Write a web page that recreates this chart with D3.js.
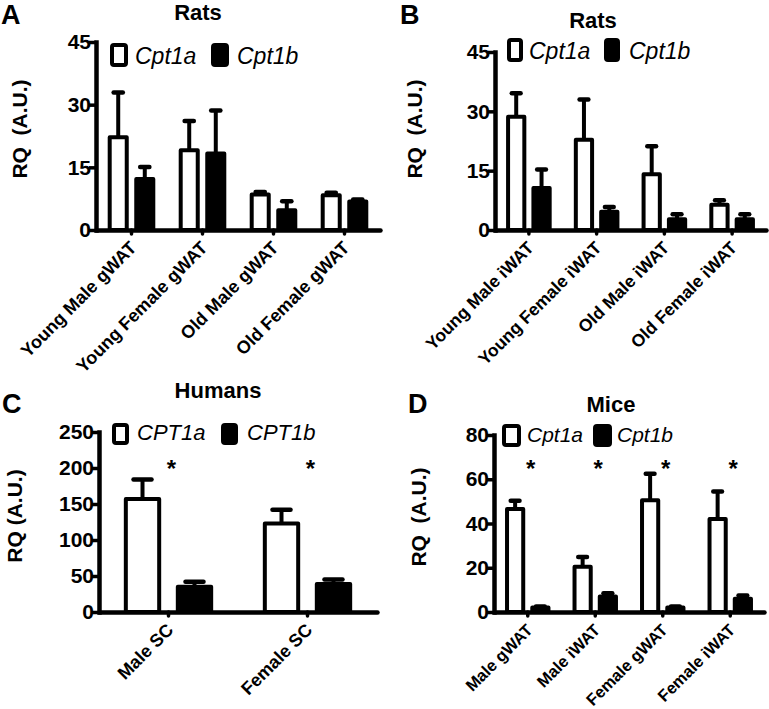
<!DOCTYPE html>
<html><head><meta charset="utf-8">
<script src="https://cdn.jsdelivr.net/npm/d3@7"></script>
<style>
body{margin:0;background:#fff;}
svg{display:block;}
text{font-family:"Liberation Sans",Arial,Helvetica,sans-serif;fill:#000;}
</style></head><body>
<svg id="c" width="769" height="709"></svg>
<script>
// ---------- data ----------
const catsA = ["Young Male gWAT","Young Female gWAT","Old Male gWAT","Old Female gWAT"];
const cpt1aA = [22.2, 19.1, 8.5, 8.3];
const cpt1aErrA = [10.7, 7.0, 0.6, 0.6];
const cpt1bA = [12.2, 18.3, 4.7, 6.8];
const cpt1bErrA = [2.9, 10.3, 2.2, 0.5];
const ticksA = [0, 15, 30, 45];

const catsB = ["Young Male iWAT","Young Female iWAT","Old Male iWAT","Old Female iWAT"];
const cpt1aB = [28.6, 22.8, 14.1, 6.4];
const cpt1aErrB = [6.0, 10.2, 7.1, 1.1];
const cpt1bB = [10.6, 4.6, 2.7, 2.7];
const cpt1bErrB = [4.7, 1.2, 1.3, 1.3];
const ticksB = [0, 15, 30, 45];

const catsC = ["Male SC","Female SC"];
const cpt1aC = [157, 123];
const cpt1aErrC = [27, 19];
const cpt1bC = [35, 39];
const cpt1bErrC = [7, 6];
const ticksC = [0, 50, 100, 150, 200, 250];
const starsC = ["*", "*"];

const catsD = ["Male gWAT","Male iWAT","Female gWAT","Female iWAT"];
const cpt1aD = [46.5, 20.4, 50.5, 42];
const cpt1aErrD = [3.8, 4.5, 12, 12.5];
const cpt1bD = [2, 7, 2, 6];
const cpt1bErrD = [0.5, 1.5, 0.5, 1.5];
const ticksD = [0, 20, 40, 60, 80];
const starsD = ["*", "*", "*", "*"];

const legendAB = ["Cpt1a", "Cpt1b"];
const legendC = ["CPT1a", "CPT1b"];

// ---------- layout ----------
const svg = d3.select("#c");
const SW = 4;

const panels = [
  {letter:"A", lx:1, ly:24, title:"Rats", tx:198, ty:20, cats:catsA, a:cpt1aA, ae:cpt1aErrA, b:cpt1bA, be:cpt1bErrA,
   ticks:ticksA, max:45, x0:96, x1:380, y0:230, yTop:42, ytx:27, yty:129, ytitle:"RQ  (A.U.)", lab:18,
   leg:legendAB, legX:[110,211], legT:[135,237], legY:43, legW:18, legH:24, legBase:64, legFs:23},
  {letter:"B", lx:400, ly:24, title:"Rats", tx:593, ty:28, cats:catsB, a:cpt1aB, ae:cpt1aErrB, b:cpt1bB, be:cpt1bErrB,
   ticks:ticksB, max:45, x0:495, x1:766, y0:230, yTop:52, ytx:422, yty:129, ytitle:"RQ  (A.U.)", lab:17.5,
   leg:legendAB, legX:[507,604], legT:[529,629], legY:38, legW:16, legH:24, legBase:59, legFs:23},
  {letter:"C", lx:2, ly:413, title:"Humans", tx:218, ty:398, cats:catsC, a:cpt1aC, ae:cpt1aErrC, b:cpt1bC, be:cpt1bErrC,
   ticks:ticksC, max:250, x0:99, x1:377, y0:612, yTop:432, ytx:22, yty:516, ytitle:"RQ (A.U.)", lab:18, stars:starsC,
   leg:legendC, legX:[112,221], legT:[137,247], legY:423, legW:17, legH:22, legBase:440, legFs:22},
  {letter:"D", lx:408, ly:413, title:"Mice", tx:611, ty:412, cats:catsD, a:cpt1aD, ae:cpt1aErrD, b:cpt1bD, be:cpt1bErrD,
   ticks:ticksD, max:80, x0:494, x1:764, y0:612, yTop:435, ytx:426, yty:517, ytitle:"RQ  (A.U.)", lab:16.5, stars:starsD,
   leg:legendAB, legX:[502,593], legT:[527,617], legY:424, legW:19, legH:23, legBase:442, legFs:21}
];

function drawPanel(p) {
  const g = svg.append("g");
  const x = d3.scaleBand().domain(p.cats).range([p.x0, p.x1]).padding(0);
  const y = d3.scaleLinear().domain([0, p.max]).range([p.y0, p.yTop]);
  const bwid = x.bandwidth();
  const bw = bwid * 0.24, off = bwid * 0.187;

  // panel letter & title
  g.append("text").attr("x", p.lx).attr("y", p.ly).attr("font-size", 27).attr("font-weight", "bold").text(p.letter);
  g.append("text").attr("x", p.tx).attr("y", p.ty).attr("text-anchor", "middle").attr("font-size", 22).attr("font-weight", "bold").text(p.title);

  // y title
  g.append("text").attr("transform", `translate(${p.ytx},${p.yty}) rotate(-90)`).attr("text-anchor", "middle")
    .attr("font-size", 21).attr("font-weight", "bold").style("white-space", "pre").text(p.ytitle);

  const series = [
    {vals:p.a, errs:p.ae, fill:"#fff", dx:-off},
    {vals:p.b, errs:p.be, fill:"#000", dx:off}
  ];
  series.forEach(s => {
    const cx = (i) => x(p.cats[i]) + bwid/2 + s.dx;
    // error bars (upper only)
    g.selectAll(null).data(s.vals).enter().append("line")
      .attr("x1", (d,i) => cx(i)).attr("x2", (d,i) => cx(i))
      .attr("y1", d => y(d)).attr("y2", (d,i) => y(d + s.errs[i]))
      .attr("stroke", "#000").attr("stroke-width", SW);
    g.selectAll(null).data(s.vals).enter().append("line")
      .attr("x1", (d,i) => cx(i) - bw*0.27).attr("x2", (d,i) => cx(i) + bw*0.27)
      .attr("y1", (d,i) => y(d + s.errs[i])).attr("y2", (d,i) => y(d + s.errs[i]))
      .attr("stroke", "#000").attr("stroke-width", SW+0.5).attr("stroke-linecap", "round");
    // bars
    g.selectAll(null).data(s.vals).enter().append("rect")
      .attr("x", (d,i) => cx(i) - bw/2).attr("width", bw)
      .attr("y", d => y(d)).attr("height", d => p.y0 - y(d))
      .attr("fill", s.fill).attr("stroke", "#000").attr("stroke-width", SW).attr("stroke-linejoin", "round");
  });

  // stars
  if (p.stars) {
    g.selectAll(null).data(p.stars).enter().append("text")
      .attr("x", (d,i) => x(p.cats[i]) + bwid/2 + 3).attr("y", p.y0 - 135)
      .attr("text-anchor", "middle").attr("font-size", 24).attr("font-weight", "bold").text(d => d);
  }

  // y axis
  const ya = g.append("g").attr("transform", `translate(${p.x0},0)`)
    .call(d3.axisLeft(y).tickValues(p.ticks).tickFormat(d3.format("d")).tickSize(7).tickSizeOuter(0).tickPadding(-2));
  ya.select(".domain").attr("stroke-width", 4.5).attr("stroke-linecap", "square");
  ya.selectAll(".tick line").attr("stroke-width", 3.5);
  ya.selectAll(".tick text").attr("font-size", 21).attr("font-weight", "bold")
    .attr("font-family", '"Liberation Sans",Arial,sans-serif').attr("fill", "#000");

  // x axis
  const xa = g.append("g").attr("transform", `translate(0,${p.y0})`)
    .call(d3.axisBottom(x).tickSize(4).tickSizeOuter(0));
  xa.select(".domain").attr("stroke-width", 4.5).attr("stroke-linecap", "round");
  xa.selectAll(".tick line").attr("stroke-width", 3.5).attr("stroke-linecap", "round");
  xa.selectAll(".tick text").attr("font-size", p.lab).attr("font-weight", "bold")
    .attr("font-family", '"Liberation Sans",Arial,sans-serif').attr("fill", "#000")
    .attr("x", 0).attr("y", 0).attr("dy", 0)
    .attr("text-anchor", "end").attr("transform", "translate(6,19) rotate(-45)");
  g.selectAll(".domain").attr("fill", "none");

  // legend
  const fills = ["#fff", "#000"];
  p.leg.forEach((name, i) => {
    g.append("rect").attr("x", p.legX[i] + 2).attr("y", p.legY + 2)
      .attr("width", p.legW - 4).attr("height", p.legH - 4).attr("rx", 2)
      .attr("fill", fills[i]).attr("stroke", "#000").attr("stroke-width", SW);
    g.append("text").attr("x", p.legT[i]).attr("y", p.legBase).attr("font-size", p.legFs)
      .attr("font-style", "italic").text(name);
  });
}

panels.forEach(drawPanel);
</script>
</body></html>
